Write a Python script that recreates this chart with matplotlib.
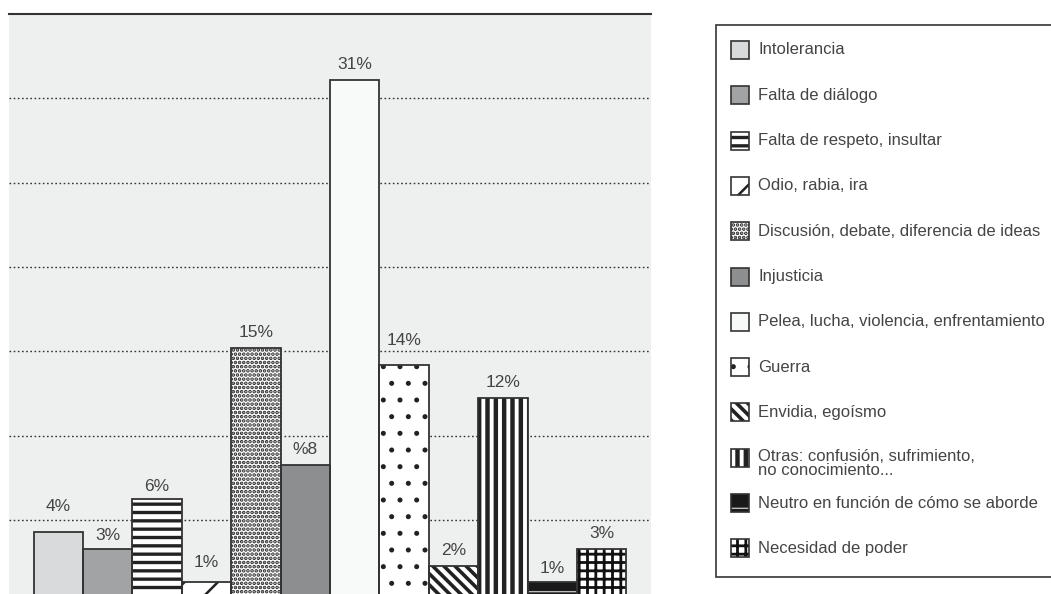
import matplotlib
matplotlib.use("Agg")
import matplotlib.pyplot as plt
import numpy as np
from matplotlib.patches import Rectangle

plt.rcParams['font.family'] = ['Liberation Sans', 'DejaVu Sans']

# data
categories = [
    "Intolerancia",
    "Falta de diálogo",
    "Falta de respeto, insultar",
    "Odio, rabia, ira",
    "Discusión, debate, diferencia de ideas",
    "Injusticia",
    "Pelea, lucha, violencia, enfrentamiento",
    "Guerra",
    "Envidia, egoísmo",
    "Otras: confusión, sufrimiento,\nno conocimiento...",
    "Neutro en función de cómo se aborde",
    "Necesidad de poder",
]
values = [4, 3, 6, 1, 15, 8, 31, 14, 2, 12, 1, 3]
value_labels = ["4%", "3%", "6%", "1%", "15%", "%8", "31%", "14%", "2%", "12%", "1%", "3%"]

# styles
face_colors = ["#d9dadb", "#a2a3a4", "#ffffff", "#ffffff", "#ffffff", "#8d8e8f",
               "#f8f9f9", "#ffffff", "#ffffff", "#ffffff", "#1a1a1a", "#ffffff"]
hatches = ["", "", "--", "/", "....", "", "", ".", "\\\\\\", "||", "-", "++"]
hatch_colors = ["#222222"] * 10 + ["#bdbdbd", "#111111"]
hatch_widths = [1, 1, 2.4, 1.8, 1.8, 1, 1, 1.2, 2.6, 3.2, 1.0, 2.0]
# label gap above each bar (px, to text centre) as placed in the original
label_gaps = [26, 13, 12, 20, 15, 16, 15, 24, 15, 16, 14, 15]
edge = "#333333"
text_col = "#444444"

W, H = 1051, 594
fig = plt.figure(figsize=(W / 100, H / 100), dpi=100)
ax = fig.add_axes([9 / W, 0, 642 / W, 580 / H])
ax.set_facecolor("#eeefef")

x = np.arange(len(values))
bars = ax.bar(x, values, width=1.0, color=face_colors, linewidth=0)
for p, h, hc, hw in zip(bars, hatches, hatch_colors, hatch_widths):
    p.set_edgecolor(hc)
    p.set_hatch(h)
    if hasattr(p, "set_hatch_linewidth"):
        p.set_hatch_linewidth(hw)
outline = ax.bar(x, values, width=1.0, fill=False, edgecolor=edge, linewidth=1.3)
for xi, v, lab, gap in zip(x, values, value_labels, label_gaps):
    ax.annotate(lab, (xi, v), xytext=(0, gap * 0.72), textcoords="offset points",
                ha="center", va="center", fontsize=12.5, color=text_col)

ax.set_xlim(-1, len(values))
ax.set_ylim(0.31, 34.94)
ax.set_yticks(4.71 + 5.04 * np.arange(6))
ax.yaxis.grid(True, linestyle=(0, (1.2, 1.8)), color="#333333", linewidth=1.0)
ax.set_axisbelow(True)
ax.tick_params(left=False, labelleft=False, bottom=False, labelbottom=False)
for side in ["left", "right", "bottom"]:
    ax.spines[side].set_visible(False)
ax.spines["top"].set_color("#333333")
ax.spines["top"].set_linewidth(1.5)

# legend drawn in pixel coordinates
lax = fig.add_axes([0, 0, 1, 1], zorder=5)
lax.set_xlim(0, W)
lax.set_ylim(H, 0)
lax.axis("off")
lax.add_patch(Rectangle((716, 25), 360, 552, facecolor="white", edgecolor="#444444", linewidth=1.3))
for i, name in enumerate(categories):
    yc = 50 + 45.3 * i
    icon = Rectangle((731, yc - 9), 18, 18, facecolor=face_colors[i], edgecolor=hatch_colors[i],
                     hatch=hatches[i], linewidth=0)
    if hasattr(icon, "set_hatch_linewidth"):
        icon.set_hatch_linewidth(hatch_widths[i])
    lax.add_patch(icon)
    lax.add_patch(Rectangle((731, yc - 9), 18, 18, fill=False, edgecolor=edge, linewidth=1.2))
    if "\n" in name:
        lax.text(758, yc - 9, name, va="top", ha="left", fontsize=12, color=text_col, linespacing=0.95)
    else:
        lax.text(758, yc, name, va="center", ha="left", fontsize=12, color=text_col)

fig.savefig("out.png", dpi=100)
